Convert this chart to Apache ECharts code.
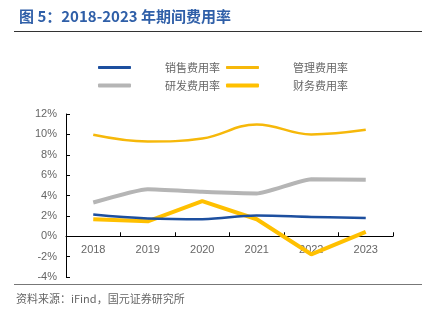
<!DOCTYPE html>
<html><head><meta charset="utf-8">
<script src="https://cdn.jsdelivr.net/npm/echarts@6/dist/echarts.min.js"></script>
<style>html,body{margin:0;padding:0;background:#fff}#c{width:432px;height:321px}</style>
</head><body><div id="c"></div>
<script>
const years = ['2018','2019','2020','2021','2022','2023'];
const salesRate = [2.13, 1.75, 1.68, 2.03, 1.9, 1.78];
const mgmtRate = [9.96, 9.3, 9.6, 10.98, 10.0, 10.45];
const rdRate = [3.31, 4.62, 4.36, 4.2, 5.6, 5.54];
const finRate = [1.67, 1.47, 3.44, 1.67, -1.77, 0.43];
const seriesNames = ['销售费用率','管理费用率','研发费用率','财务费用率'];

const chart = echarts.init(document.getElementById('c'));
const labelFont = 'Liberation Sans, Arial, sans-serif';
const cjk = 'Noto Sans CJK SC';
const gridTop = 114, gridBottom = 44, yMin = -4, yMax = 12;
const plotH = 321 - gridTop - gridBottom;
chart.setOption({
  animation:false,
  title:{text:'图 5：2018-2023 年期间费用率', left:14, top:4,
    textStyle:{fontFamily:cjk, fontSize:15, fontWeight:'bold', color:'#2f5fa8'}},
  graphic:[
    {type:'line', shape:{x1:14,y1:31.5,x2:422,y2:31.5}, style:{stroke:'#333',lineWidth:1}},
    {type:'line', shape:{x1:14,y1:284.5,x2:422,y2:284.5}, style:{stroke:'#777',lineWidth:1}},
    {type:'text', left:16, top:293, style:{text:'资料来源：iFind，国元证券研究所', fontFamily:cjk, fontSize:11, fill:'#666'}}
  ],
  legend:[
    {data:[seriesNames[0],seriesNames[1]], left:93, top:57, itemWidth:33, itemHeight:3, itemGap:6, icon:'roundRect',
      textStyle:{fontFamily:cjk,fontSize:11,color:'#666',padding:[0,0,0,29]}},
    {data:[seriesNames[2],seriesNames[3]], left:93, top:75, itemWidth:33, itemHeight:4, itemGap:6, icon:'roundRect',
      textStyle:{fontFamily:cjk,fontSize:11,color:'#666',padding:[0,0,0,29]}}
  ],
  grid:{left:66, right:39, top:gridTop, bottom:gridBottom, containLabel:false},
  xAxis:{type:'category', data:years, boundaryGap:true,
    offset: -plotH * (0 - yMin) / (yMax - yMin),
    axisLine:{onZero:false, lineStyle:{color:'#000',width:1}},
    axisTick:{show:true, inside:true, length:4, lineStyle:{color:'#000'}},
    axisLabel:{color:'#666', fontSize:11, fontFamily:labelFont, margin:8},
    splitLine:{show:false}},
  yAxis:{type:'value', min:yMin, max:yMax, interval:2,
    axisLine:{show:true, lineStyle:{color:'#000',width:1}},
    axisTick:{show:true, inside:true, length:4, lineStyle:{color:'#000'}},
    axisLabel:{color:'#666', fontSize:11, fontFamily:labelFont, margin:9, formatter:v=>v+'%'},
    splitLine:{show:false}},
  series:[
    {name:seriesNames[0], type:'line', data:salesRate, smooth:0.4, symbol:'none',
      lineStyle:{color:'#1d4f9f', width:2.5}, itemStyle:{color:'#1d4f9f'}, z:3},
    {name:seriesNames[1], type:'line', data:mgmtRate, smooth:0.4, symbol:'none',
      lineStyle:{color:'#f6b80a', width:2.5}, itemStyle:{color:'#f6b80a'}},
    {name:seriesNames[2], type:'line', data:rdRate, smooth:0.15, symbol:'none',
      lineStyle:{color:'#b5b5b5', width:4}, itemStyle:{color:'#b5b5b5'}},
    {name:seriesNames[3], type:'line', data:finRate, symbol:'none',
      lineStyle:{color:'#ffc000', width:4}, itemStyle:{color:'#ffc000'}, z:2}
  ]
});
</script></body></html>
